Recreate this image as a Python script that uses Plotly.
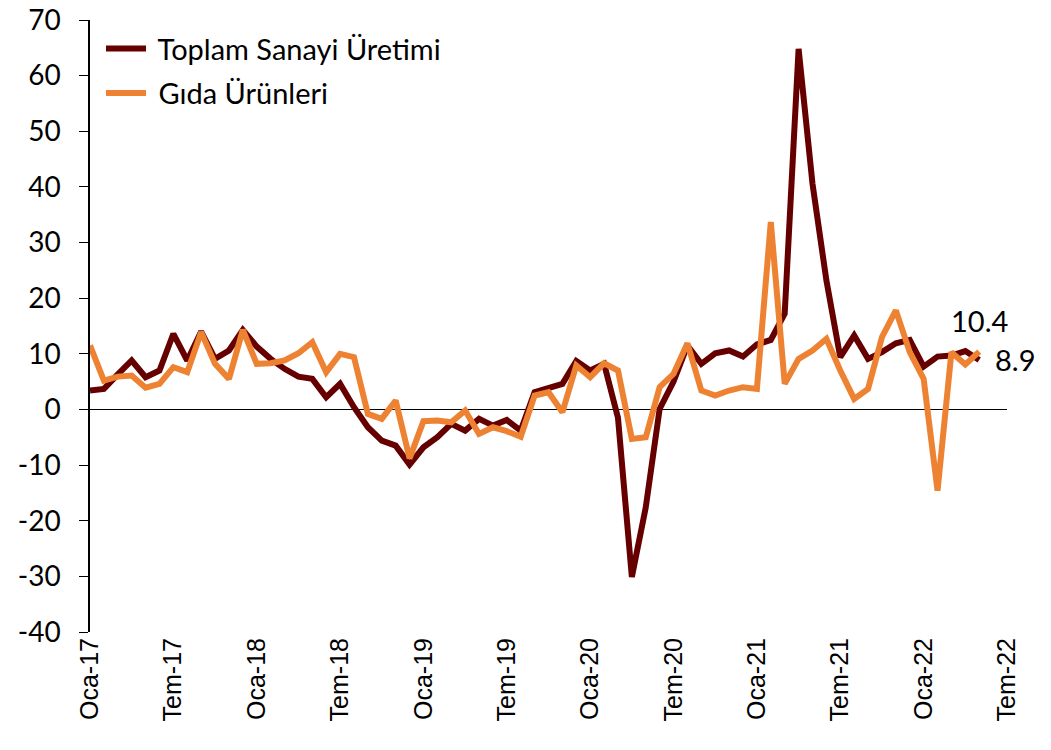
import plotly.graph_objects as go

tick_labels = ["Oca-17", "Tem-17", "Oca-18", "Tem-18", "Oca-19", "Tem-19", "Oca-20",
               "Tem-20", "Oca-21", "Tem-21", "Oca-22", "Tem-22"]
y_ticks = [70, 60, 50, 40, 30, 20, 10, 0, -10, -20, -30, -40]

# Monthly y/y % change, Jan 2017 - May 2022
toplam = [3.4, 3.7, 6.3, 8.8, 5.8, 7.0, 13.6, 8.8, 14.0, 9.1, 10.6, 14.3,
          11.3, 9.1, 7.3, 5.9, 5.5, 2.2, 4.6, 0.4, -3.2, -5.6, -6.5, -9.9,
          -6.8, -5.0, -2.6, -3.8, -1.7, -2.9, -1.9, -3.8, 3.1, 3.9, 4.6, 8.7,
          7.0, 8.2, -1.5, -30.1, -17.6, 0.1, 5.0, 11.5, 8.2, 10.1, 10.6, 9.5,
          11.7, 12.5, 17.2, 64.8, 40.6, 23.2, 9.4, 13.3, 9.1, 10.3, 11.9, 12.5,
          7.7, 9.5, 9.7, 10.5, 8.9]
gida = [11.5, 5.2, 5.9, 6.1, 3.9, 4.6, 7.6, 6.7, 13.9, 8.2, 5.5, 14.3,
        8.2, 8.3, 8.8, 10.1, 12.1, 6.7, 10.0, 9.4, -0.8, -1.7, 1.6, -8.8,
        -2.1, -2.0, -2.3, -0.2, -4.4, -3.2, -3.9, -4.9, 2.5, 3.1, -0.5, 7.9,
        5.8, 8.3, 7.0, -5.3, -5.0, 4.0, 6.4, 11.9, 3.4, 2.5, 3.4, 4.0,
        3.7, 33.7, 4.6, 9.1, 10.6, 12.7, 7.0, 1.9, 3.7, 13.0, 17.8, 10.3,
        5.5, -14.6, 10.3, 8.1, 10.4]

months = list(range(len(toplam)))
tick_pos = [6 * k for k in range(len(tick_labels))]

TXT = "Lato"
PAD = "\u00a0"
fig = go.Figure()
fig.add_trace(go.Scatter(x=months, y=toplam, mode="lines", name=PAD + "Toplam Sanayi Üretimi",
                         line=dict(color="#660000", width=6), legendgroup="a"))
fig.add_trace(go.Scatter(x=months, y=gida, mode="lines", name=PAD + "Gıda Ürünleri",
                         line=dict(color="#EE8233", width=6), legendgroup="b"))

fig.add_annotation(x=months[-1], y=gida[-1], text=f"{gida[-1]:.1f}", showarrow=False,
                   yanchor="bottom", yshift=12, font=dict(family=TXT, size=29, color="black"))
fig.add_annotation(x=months[-1], y=toplam[-1], text=f"{toplam[-1]:.1f}", showarrow=False,
                   xanchor="left", xshift=14, yshift=0, font=dict(family=TXT, size=29, color="black"))

fig.update_layout(
    width=1051, height=750,
    margin=dict(l=90, r=44, t=20, b=118, autoexpand=False),
    paper_bgcolor="white", plot_bgcolor="white",
    showlegend=True,
    legend=dict(x=0.012, y=0.995, xanchor="left", yanchor="top",
                font=dict(family=TXT, size=29, color="black"),
                bgcolor="rgba(0,0,0,0)", tracegroupgap=4, itemwidth=40),
    xaxis=dict(range=[0, 66], tickmode="array", tickvals=tick_pos, ticktext=tick_labels,
               tickangle=-90, showgrid=False, zeroline=False, showline=False, ticks="",
               automargin=False, ticklabeloverflow="allow",
               tickfont=dict(family="Liberation Sans", size=25, color="black")),
    yaxis=dict(range=[-40, 70], tickmode="array", tickvals=y_ticks,
               ticktext=[str(v) for v in y_ticks], showgrid=False, zeroline=True,
               zerolinecolor="black", zerolinewidth=1.3, showline=True, linecolor="black",
               linewidth=1.5, ticks="outside", ticklen=9, tickcolor="black",
               automargin=False, ticklabelstandoff=13, ticklabeloverflow="allow",
               tickfont=dict(family=TXT, size=28, color="black")),
)
fig.write_html("out.html", config={"displayModeBar": False},
               post_script="document.body.style.margin='0';")
